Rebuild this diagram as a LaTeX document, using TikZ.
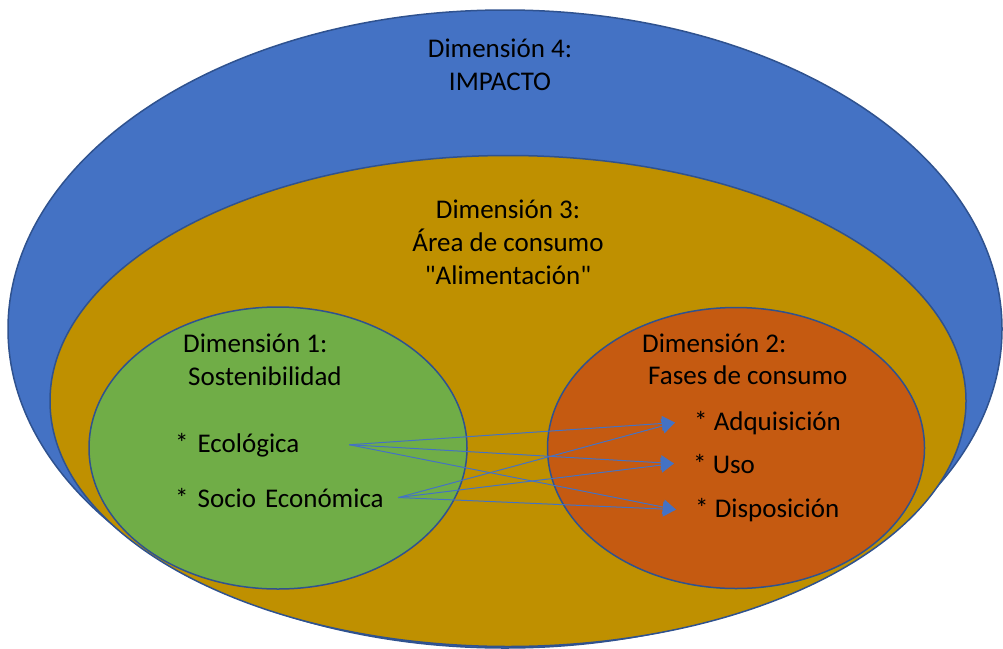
\documentclass[tikz,border=0pt]{standalone}
\usepackage{fontspec}
\setmainfont{Carlito}
\usetikzlibrary{shapes.geometric}
\usetikzlibrary{arrows.meta}

\definecolor{impactblue}{HTML}{4472C4}
\definecolor{areagold}{HTML}{BF9000}
\definecolor{sostgreen}{HTML}{70AD47}
\definecolor{fasesorange}{HTML}{C55A11}
\definecolor{rimblue}{HTML}{2F528F}

\begin{document}
\begin{tikzpicture}[x=1pt, y=-1pt,
    zone/.style={ellipse, draw=rimblue, line width=1.5pt, inner sep=0pt},
    dimtext/.style={font=\fontsize{27}{33}\selectfont, align=center, inner sep=0pt, anchor=base},
    itemleft/.style={font=\fontsize{27}{33}\selectfont, anchor=base west, inner sep=0pt, align=left},
    itemright/.style={font=\fontsize{27}{33}\selectfont, anchor=base west, inner xsep=19pt, inner ysep=0pt},
    flow/.style={draw=impactblue, line width=1pt, -{Triangle[length=13pt, width=15pt]}}]
    \useasboundingbox (0,0) rectangle (1003,648);

    % nested zones
    \node [zone, fill=impactblue, minimum width=994pt, minimum height=638pt] (impacto) at (505,329) {};
    \node [zone, fill=areagold, minimum width=916pt, minimum height=491pt] (area) at (508,401) {};
    \node [zone, fill=sostgreen, minimum width=378pt, minimum height=282pt] (sost) at (278,448) {};
    \node [zone, fill=fasesorange, minimum width=377pt, minimum height=281pt] (fases) at (736,448) {};

    % titles (base = last line)
    \node [dimtext] (dimcuatro) at (500,90) {Dimensión 4:\\IMPACTO};
    \node [dimtext] (dimtres) at (508,284) {Dimensión 3:\\Área de consumo\\\textquotedbl Alimentación\textquotedbl};
    \node [dimtext, anchor=base west] (dimuno) at (183,352) {Dimensión 1:};
    \node [dimtext, anchor=base west] (sosttitle) at (188,385) {Sostenibilidad};
    \node [dimtext, anchor=base west] (dimdos) at (642,352) {Dimensión 2:};
    \node [dimtext, anchor=base west] (fasestitle) at (648,384) {Fases de consumo};

    % items
    \node [itemleft, text width=174pt] (eco) at (175,452) {* Ecológica};
    \node [itemleft, text width=223pt] (socio) at (175,507) {* Socio Económica};
    \node [itemright] (adq) at (675,430) {* Adquisición};
    \node [itemright] (uso) at (674,473) {* Uso};
    \node [itemright] (disp) at (676,517) {* Disposición};

    \draw [flow] (eco.east) -- (adq.west);
    \draw [flow] (eco.east) -- (uso.west);
    \draw [flow] (eco.east) -- (disp.west);
    \draw [flow] (socio.east) -- (adq.west);
    \draw [flow] (socio.east) -- (uso.west);
    \draw [flow] (socio.east) -- (disp.west);
\end{tikzpicture}
\end{document}
